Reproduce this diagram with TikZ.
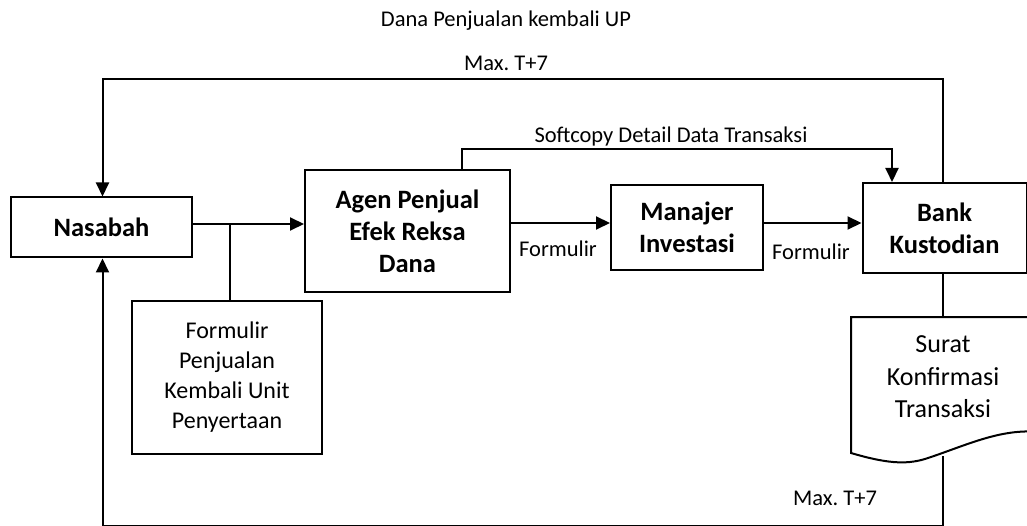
\documentclass[tikz,border=0pt]{standalone}
\usepackage{fontspec}
\setmainfont{Carlito}
\usetikzlibrary{arrows.meta}
\tikzset{
  box/.style={draw, line width=2pt, align=center, inner sep=0pt},
  boldtext/.style={font=\fontsize{26.5}{32}\selectfont\bfseries},
  plain/.style={font=\fontsize{24}{30}\selectfont},
  doctext/.style={font=\fontsize{26}{32.5}\selectfont},
  label/.style={font=\fontsize{22.5}{26}\selectfont, inner sep=0pt},
  conn/.style={line width=2pt},
  arr/.style={conn, -{Triangle[length=14pt,width=13pt]}},
}
\begin{document}
\frenchspacing
\begin{tikzpicture}[x=1pt,y=-1pt]
\useasboundingbox (0,0) rectangle (1027,526);
% boxes
\node[box, boldtext, minimum width=181pt, minimum height=60pt] (nas) at (101.5,227.5) {Nasabah};
\node[box, boldtext, minimum width=205pt, minimum height=122pt, text depth=0pt] (agen) at (407.5,231) {Agen Penjual\\Efek Reksa\\Dana};
\node[box, boldtext, minimum width=152pt, minimum height=85pt] (mi) at (687,227.5) {Manajer\\Investasi};
\node[box, boldtext, minimum width=164pt, minimum height=90pt] (bank) at (944.5,228) {Bank\\Kustodian};
\node[box, plain, minimum width=190pt, minimum height=153pt] (form) at (227,377.5) {Formulir\\Penjualan\\Kembali Unit\\Penyertaan};
% document shape
\draw[line width=2pt] (851,317) -- (1040,317) -- (1040,432)
  .. controls (1000,428) and (965,446) .. (925,459)
  .. controls (905,465) and (885,463) .. (851,453) -- cycle;
\node[doctext, align=center] (doc) at (943,377) {Surat\\Konfirmasi\\Transaksi};
\coordinate (doctop) at (943,317);
\coordinate (docbot) at (943,456);
% coordinates for routes
\coordinate (top) at (0,79);
\coordinate (bot) at (0,525.5);
\coordinate (soft) at (0,149);
% Nasabah -> Agen with branch to form
\draw[arr] ([yshift=3.5pt]nas.east) -- ([yshift=3.5pt]nas.east -| agen.west);
\coordinate (br) at ([yshift=3.5pt]nas.east -| 230,0);
\draw[conn] (br) -- (br |- form.north);
% Agen -> MI -> Bank
\draw[arr] ([yshift=4.5pt]mi.west -| agen.east) -- ([yshift=4.5pt]mi.west);
\draw[arr] ([yshift=4.5pt]mi.east) -- ([yshift=4.5pt]mi.east -| bank.west);
% Softcopy
\coordinate (sA) at ([xshift=54.5pt]agen.north);
\coordinate (sB) at ([xshift=-52.5pt]bank.north);
\draw[arr] (sA) -- (sA |- soft) -- (sB |- soft) -- (sB);
% top loop
\coordinate (tA) at ([xshift=-1.5pt]bank.north);
\coordinate (tB) at ([xshift=1pt]nas.north);
\draw[arr] (tA) -- (tA |- top) -- (tB |- top) -- (tB);
% bank -> document
\draw[conn] ([xshift=-1.5pt]bank.south) -- (doctop);
% bottom loop
\coordinate (bB) at ([xshift=1pt]nas.south);
\draw[arr] (docbot) -- (docbot |- bot) -- (bB |- bot) -- (bB);
% labels
\node[label] (lsoft) at (671,137) {Softcopy Detail Data Transaksi};
\node[label] (lf1) at (558,249) {Formulir};
\node[label] (lf2) at (811,252) {Formulir};
\node[label] (ldana) at (506,21) {Dana Penjualan kembali UP};
\node[label] (lmax1) at (506,63) {Max. T+7};
\node[label] (lmax2) at (835,498) {Max. T+7};
\end{tikzpicture}
\end{document}
